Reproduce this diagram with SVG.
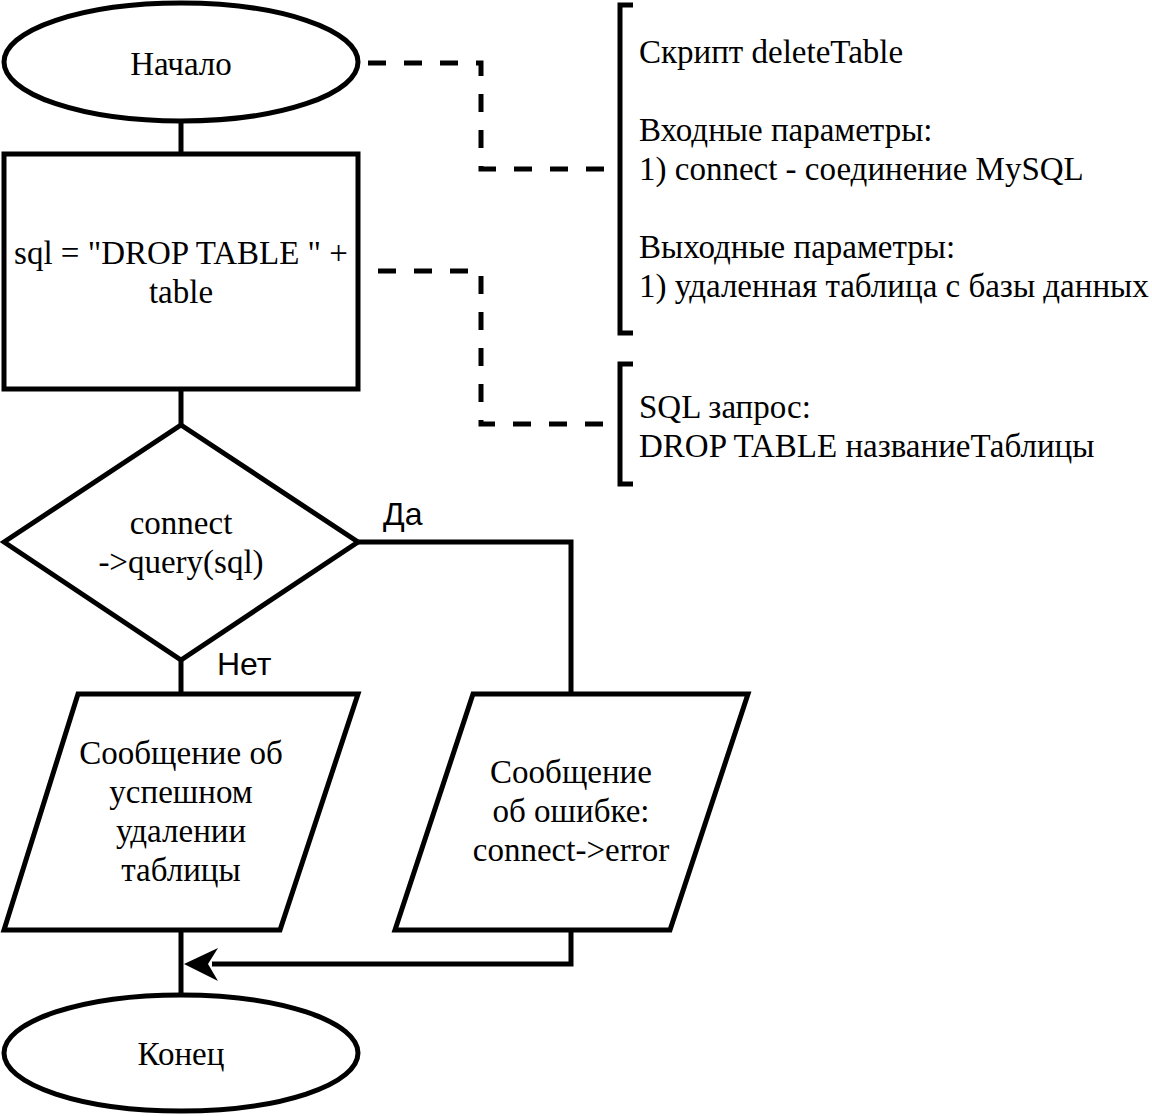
<svg xmlns="http://www.w3.org/2000/svg" width="1152" height="1116" viewBox="0 0 1152 1116">
<style>
.s{fill:#fff;stroke:#000;stroke-width:5}
.t{font-family:"Liberation Serif",serif;font-size:33px;fill:#000}
.c{text-anchor:middle}
.l{font-family:"Liberation Sans",sans-serif;font-size:32px;fill:#000}
.e{fill:none;stroke:#000;stroke-width:5}
.d{fill:none;stroke:#000;stroke-width:5;stroke-dasharray:18 18}
</style>
<g id="connectors">
<path class="e" d="M181,122 V154"/>
<path class="e" d="M181,389 V425"/>
<path class="e" d="M181,660 V694"/>
<path class="e" d="M358,542 H571 V694"/>
<path class="e" d="M181,930 V994"/>
<path class="e" d="M571,930 V964 H212"/>
<path d="M184,964 L218,948 L208,964 L218,981 Z" fill="#000"/>
<path class="d" d="M368,63 H481 V169 H618"/>
<path class="d" d="M378,271 H481 V424 H618"/>
<path class="e" d="M633,5 H620 V333 H633"/>
<path class="e" d="M633,364 H620 V484 H633"/>
</g>
<g id="start"><ellipse class="s" cx="181" cy="62" rx="177" ry="59"/><text class="t c" x="181" y="75">Начало</text></g>
<g id="sql"><rect class="s" x="4" y="154" width="354" height="235"/><text class="t c" x="181" y="264">sql = "DROP TABLE " +</text><text class="t c" x="181" y="303">table</text></g>
<g id="decision"><path class="s" d="M181,425 L358,542 L181,660 L4,542 Z"/><text class="t c" x="181" y="534">connect</text><text class="t c" x="181" y="573">-&gt;query(sql)</text></g>
<g id="success"><path class="s" d="M78,694 H358 L280,930 H4 Z"/><text class="t c" x="181" y="764">Сообщение об</text><text class="t c" x="181" y="803">успешном</text><text class="t c" x="181" y="842">удалении</text><text class="t c" x="181" y="881">таблицы</text></g>
<g id="error"><path class="s" d="M473,694 H748 L670,930 H395 Z"/><text class="t c" x="571" y="783">Сообщение</text><text class="t c" x="571" y="822">об ошибке:</text><text class="t c" x="571" y="861">connect-&gt;error</text></g>
<g id="end"><ellipse class="s" cx="181" cy="1053" rx="177" ry="58"/><text class="t c" x="181" y="1065">Конец</text></g>
<g id="note1"><text class="t" x="639" y="63">Скрипт deleteTable</text><text class="t" x="639" y="141">Входные параметры:</text><text class="t" x="639" y="180">1) connect - соединение MySQL</text><text class="t" x="639" y="258">Выходные параметры:</text><text class="t" x="639" y="297">1) удаленная таблица с базы данных</text></g>
<g id="note2"><text class="t" x="639" y="418">SQL запрос:</text><text class="t" x="639" y="457">DROP TABLE названиеТаблицы</text></g>
<g id="labels"><text class="l" x="383" y="525">Да</text><text class="l" x="217" y="675">Нет</text></g>
</svg>
